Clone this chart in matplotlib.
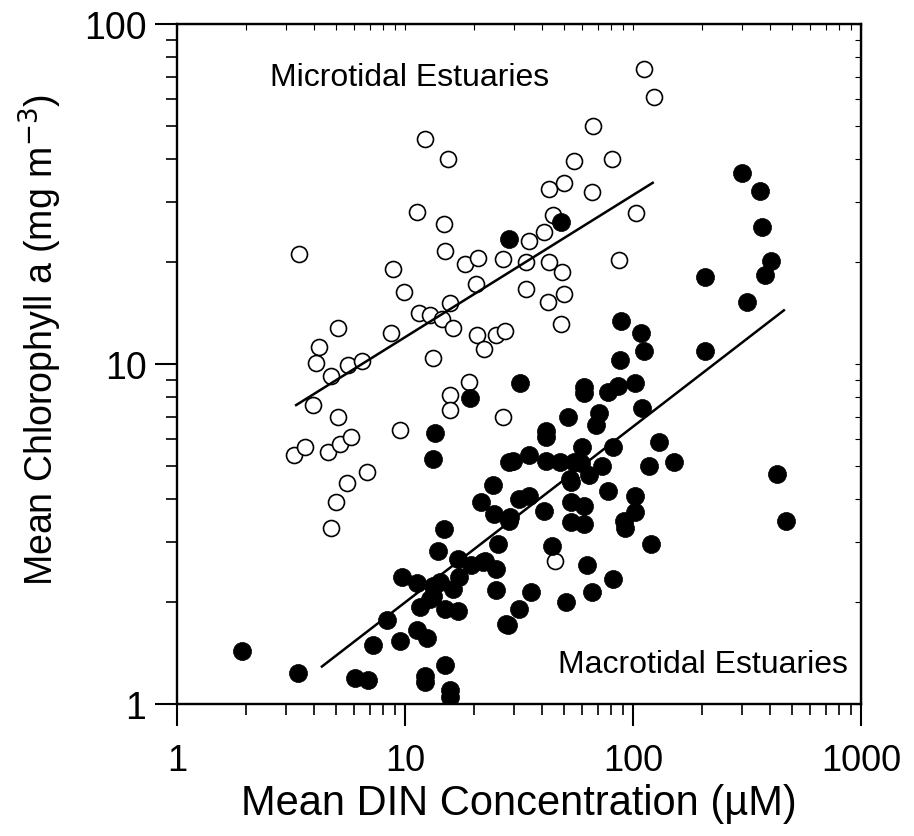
import numpy as np
import matplotlib
matplotlib.use("Agg")
from matplotlib import pyplot as plt
from matplotlib.ticker import LogLocator, NullFormatter, FixedLocator, FixedFormatter

plt.rcParams["font.family"] = ["Liberation Sans", "DejaVu Sans"]

# microtidal estuaries (open circles)
micro_din = [112, 124, 67, 12.2, 15.4, 55, 81, 11.3, 14.8, 43, 50, 66, 103, 44.6, 40.8, 35,
             3.42, 8.9, 9.9, 15, 18.4, 21, 27, 20.4, 15.8, 11.5, 12.9, 14.6, 16.2, 5.1, 8.7,
             4.19, 4.06, 4.73, 5.6, 6.5, 13.2, 20.6, 22.1, 25, 27.4, 3.94, 5.1, 9.5, 15.7,
             15.7, 19, 27, 3.25, 3.63, 4.6, 5.2, 5.8, 6.8, 5.56, 5.0, 4.73, 34, 43, 49, 34,
             42.4, 50, 48.4, 87, 45.6]
micro_chl = [73.7, 61, 50, 46, 40, 39.6, 40, 28, 25.8, 32.7, 34, 32, 27.8, 27.4, 24.4, 23,
             21, 19, 16.3, 21.5, 19.7, 20.5, 20.4, 17.2, 15.1, 14.1, 13.9, 13.6, 12.8, 12.8, 12.3,
             11.2, 10.1, 9.2, 9.9, 10.2, 10.4, 12.2, 11.1, 12.2, 12.5, 7.6, 7.0, 6.4, 8.1,
             7.3, 8.85, 7.0, 5.4, 5.7, 5.5, 5.8, 6.1, 4.8, 4.47, 3.93, 3.29, 20, 20, 18.7, 16.6,
             15.2, 16.1, 13.1, 20.2, 2.64]

# macrotidal estuaries (filled circles)
macro_din = [301, 361, 369, 48.4, 28.6, 405, 380, 207, 317, 207, 89, 108, 112, 88, 32, 61,
             61, 78, 86, 102, 109, 52, 71, 69, 41.6, 41.6, 60, 82, 130, 29.7, 35, 41.6, 48,
             55, 59, 73, 117, 151, 430, 53, 64, 467, 53.6, 78, 102, 102, 91, 92, 53.6, 61,
             53.6, 61, 40.7, 31.6, 35, 29, 120, 44, 63, 82, 66, 35.7, 51, 31.6, 28.3,
             1.92, 3.38, 6.04, 6.9, 12.2, 12.2, 15, 15.8, 15.8, 7.25, 9.5, 11.3, 12.5, 8.3,
             11.6, 9.7, 11.3, 13.3, 15, 17, 12.9, 14.2, 14, 14.8, 17, 16.2, 17.2, 19.4, 22,
             25, 25.5, 25, 21.5, 24.3, 24.5, 27.7, 28.6, 13.2, 28.6, 13.5, 19.2, 13.3, 22.4]
macro_chl = [36.5, 32.3, 25.3, 26.2, 23.3, 20.1, 18.3, 18, 15.2, 10.9, 13.4, 12.3, 10.9, 10.3, 8.8, 8.55,
             8.2, 8.3, 8.6, 8.8, 7.4, 7.0, 7.2, 6.6, 6.35, 6.1, 5.7, 5.7, 5.9, 5.2, 5.4, 5.2, 5.15,
             5.15, 5.1, 5.0, 5.0, 5.15, 4.75, 4.6, 4.7, 3.45, 4.5, 4.23, 4.1, 3.67, 3.45, 3.3, 3.93, 3.82,
             3.43, 3.38, 3.7, 4.0, 4.1, 3.55, 2.96, 2.92, 2.56, 2.33, 2.13, 2.13, 2.0, 1.9, 1.71,
             1.43, 1.23, 1.19, 1.18, 1.21, 1.16, 1.3, 1.1, 1.05, 1.49, 1.53, 1.65, 1.56, 1.77,
             1.93, 2.36, 2.27, 2.22, 1.9, 1.88, 2.04, 2.28, 2.82, 3.27, 2.67, 2.18, 2.36, 2.56, 2.62,
             2.5, 2.96, 2.16, 3.93, 4.4, 3.62, 1.72, 3.45, 5.26, 5.15, 6.27, 7.94, 2.08, 2.64]

# log-log regression fits: chl = a * din ** b over the plotted range
micro_fit = (4.58, 0.418)
micro_range = (3.33, 122)
macro_fit = (0.605, 0.517)
macro_range = (4.32, 459)

fig = plt.figure(figsize=(9.14, 8.37), dpi=100)
ax = fig.add_axes([0.1937, 0.1577, 0.7483, 0.8124])

ax.plot(micro_din, micro_chl, "o", ms=11.5, mfc="white", mec="black", mew=1.2, zorder=3)
ax.plot(macro_din, macro_chl, "o", ms=13, mfc="black", mec="black", mew=0.5, zorder=4)

for (a, b), (lo, hi) in [(micro_fit, micro_range), (macro_fit, macro_range)]:
    xs = np.array([lo, hi])
    ax.plot(xs, a * xs ** b, color="black", lw=1.8, zorder=5)

ax.set_xscale("log")
ax.set_yscale("log")
ax.set_xlim(1, 1000)
ax.set_ylim(1, 100)

ax.xaxis.set_major_locator(FixedLocator([1, 10, 100, 1000]))
ax.xaxis.set_major_formatter(FixedFormatter(["1", "10", "100", "1000"]))
ax.yaxis.set_major_locator(FixedLocator([1, 10, 100]))
ax.yaxis.set_major_formatter(FixedFormatter(["1", "10", "100"]))
ax.xaxis.set_minor_locator(LogLocator(base=10, subs=np.arange(2, 10)))
ax.yaxis.set_minor_locator(LogLocator(base=10, subs=np.arange(2, 10)))
ax.xaxis.set_minor_formatter(NullFormatter())
ax.yaxis.set_minor_formatter(NullFormatter())

ax.tick_params(which="major", direction="out", length=16, width=1.5, pad=6)
ax.tick_params(axis="y", which="major", labelsize=27)
ax.tick_params(axis="x", which="major", labelsize=26, pad=12)
ax.tick_params(which="minor", direction="out", length=8, width=1.2)

for side in ["top", "right", "left", "bottom"]:
    ax.spines[side].set_linewidth(1.7)

# small inward ticks on the top and right frame
sec_x = ax.secondary_xaxis("top")
sec_x.set_xscale("log")
sec_x.xaxis.set_major_locator(FixedLocator([1, 10, 100, 1000]))
sec_x.xaxis.set_minor_locator(LogLocator(base=10, subs=np.arange(2, 10)))
sec_x.tick_params(which="both", direction="in", length=4, width=0.8, labeltop=False)
sec_x.xaxis.set_major_formatter(NullFormatter())
sec_x.xaxis.set_minor_formatter(NullFormatter())
sec_y = ax.secondary_yaxis("right")
sec_y.yaxis.set_major_locator(FixedLocator([1, 10, 100]))
sec_y.yaxis.set_minor_locator(LogLocator(base=10, subs=np.arange(2, 10)))
sec_y.tick_params(which="both", direction="in", length=4, width=0.8, labelright=False)
sec_y.yaxis.set_major_formatter(NullFormatter())
sec_y.yaxis.set_minor_formatter(NullFormatter())

ax.set_xlabel("Mean DIN Concentration (\u00b5M)", fontsize=30, labelpad=4)
ax.set_ylabel("Mean Chlorophyll a (mg m$^{-3}$)", fontsize=27)
ax.yaxis.set_label_coords(-0.166, 0.537)

ax.text(0.136, 0.922, "Microtidal Estuaries", transform=ax.transAxes,
        fontsize=23, ha="left", va="center")
ax.text(0.557, 0.059, "Macrotidal Estuaries", transform=ax.transAxes,
        fontsize=23, ha="left", va="center")

fig.savefig("out.png", dpi=100)
